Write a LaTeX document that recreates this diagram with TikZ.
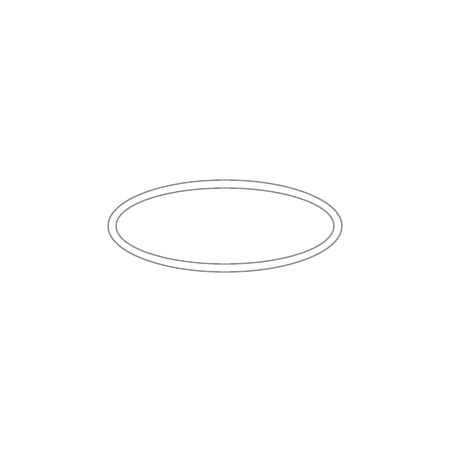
\documentclass[tikz,border=0pt]{standalone}
\usepackage{tikz}

\begin{document}
\begin{tikzpicture}[
    rim/.style={draw=black!45, line width=0.4pt}
  ]
  \useasboundingbox (0,0) rectangle (4.52,4.52);
  % Centre of the ring
  \coordinate (centre) at (2.25,2.26);

  % Outer and inner edges of the ring
  \draw[rim] (centre) ellipse [x radius=1.17, y radius=0.46];
  \draw[rim] (centre) ellipse [x radius=1.09, y radius=0.38];
\end{tikzpicture}
\end{document}
